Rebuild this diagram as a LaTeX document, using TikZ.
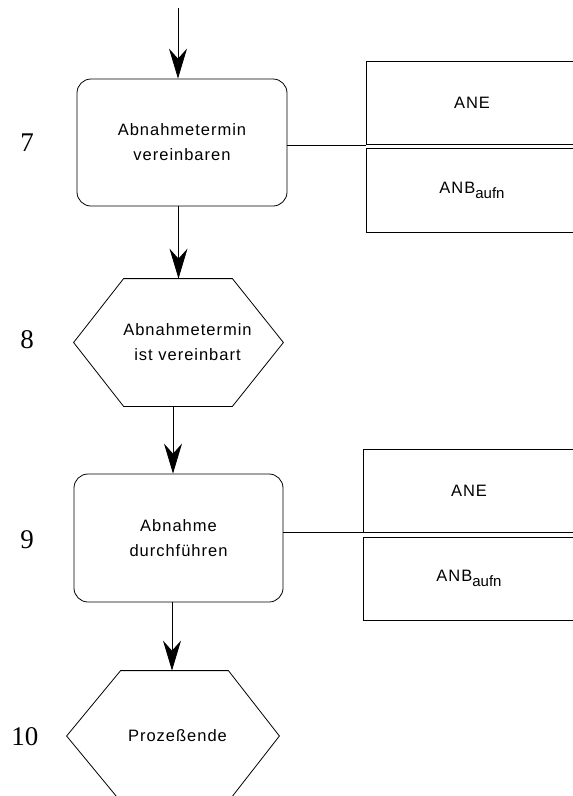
\documentclass[tikz,border=0pt]{standalone}
\usepackage{fontspec}
\setmainfont{Liberation Sans}
\newfontfamily\spacedfont{Liberation Sans}[LetterSpace=6]
\newfontfamily\plainfont{Liberation Sans}
\newfontfamily\numfont{Liberation Serif}
\usetikzlibrary{arrows.meta}

\begin{document}
\begin{tikzpicture}[x=1pt,y=-1pt,line width=0.8pt,
  every node/.style={inner sep=0pt},
  txt/.style={align=center,font=\spacedfont\fontsize{16.5}{25}\selectfont},
  arr/.style={-{Stealth[length=30pt,width=18pt,inset=10pt]}},
  funcbox/.style={draw,rounded corners=14pt,minimum width=210pt,minimum height=127pt,txt},
  hexbox/.style={minimum width=209pt,minimum height=127pt},
  orgbox/.style={draw,minimum width=212pt,minimum height=83pt,txt},
  steplabel/.style={font=\numfont\fontsize{27}{27}\selectfont}
]
\clip (0,0) rectangle (573,796);

% step numbers
\node[steplabel] (n7) at (27,143) {7};
\node[steplabel] (n8) at (27,340) {8};
\node[steplabel] (n9) at (27,540) {9};
\node[steplabel] (n10) at (25,737) {10};

% step 7: function
\node[funcbox] (b1) at (182,142.5) {Abnahmetermin\\vereinbaren};
\coordinate (start) at (178,8);
\draw[arr] (start) -- (start |- b1.north);

% org units of step 7
\node[orgbox] (ane1) at (472,103) {ANE};
\node[orgbox,minimum height=84pt] (anb1) at (472,190)
  {ANB\raisebox{-5pt}{\plainfont\fontsize{15}{15}\selectfont aufn}};
\draw (b1.east |- ane1.south west) -- (ane1.south west);

% step 8: event
\node[hexbox] (h1) at (178.5,342.5) {};
\draw (h1.west) -- ([xshift=50pt]h1.north west) -- ([xshift=-51pt]h1.north east)
  -- (h1.east) -- ([xshift=-51pt]h1.south east) -- ([xshift=50pt]h1.south west) -- cycle;
\node[txt] (h1t) at ([xshift=9pt]h1.center) {Abnahmetermin\\ist vereinbart};
\draw[arr] (h1.north |- b1.south) -- (h1.north);

% step 9: function
\node[funcbox,minimum width=209pt,minimum height=128pt] (b2) at (178.5,538) {Abnahme\\durchführen};
\coordinate (a3) at ([xshift=-5.5pt]h1.south);
\draw[arr] (a3) -- (a3 |- b2.north);

% org units of step 9
\node[orgbox] (ane2) at (469,490.5) {ANE};
\node[orgbox] (anb2) at (469,578.5)
  {ANB\raisebox{-5pt}{\plainfont\fontsize{15}{15}\selectfont aufn}};
\draw (b2.east |- ane2.south west) -- (ane2.south west);

% step 10: end event
\node[hexbox,minimum width=212pt,minimum height=130pt] (h2) at (173,736) {};
\draw (h2.west) -- ([xshift=54pt]h2.north west) -- ([xshift=-51pt]h2.north east)
  -- (h2.east) -- ([xshift=-51pt]h2.south east) -- ([xshift=54pt]h2.south west) -- cycle;
\node[txt] (h2t) at ([xshift=4.5pt]h2.center) {Prozeßende};
\draw[arr] ([xshift=-1pt]h2.north |- b2.south) -- ([xshift=-1pt]h2.north);
\end{tikzpicture}
\end{document}
